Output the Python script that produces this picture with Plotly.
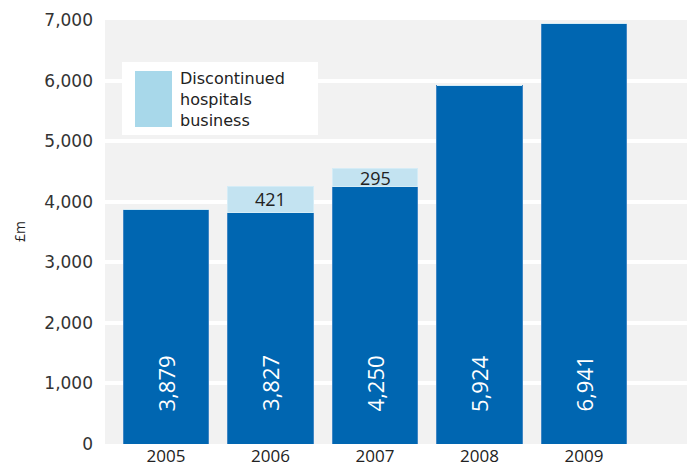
import plotly.graph_objects as go

years = ["2005", "2006", "2007", "2008", "2009"]
continuing = [3879, 3827, 4250, 5924, 6941]
discontinued = [0, 421, 295, 0, 0]
continuing_labels = ["3,879", "3,827", "4,250", "5,924", "6,941"]
discontinued_labels = ["", "421", "295", "", ""]
y_ticks = [0, 1000, 2000, 3000, 4000, 5000, 6000, 7000]
y_tick_text = ["0", "1,000", "2,000", "3,000", "4,000", "5,000", "6,000", "7,000"]
legend_lines = ["Discontinued", "hospitals", "business"]
y_title = "£m"

DARK = "#0066b1"
LIGHT = "#c3e3f1"
SWATCH = "#a8d8ea"
FONT = "Open Sans"

# plot area pixel geometry helpers (paper coords)
L, W, B, H = 105, 582, 444, 424
def px(x):
    return (x - L) / W
def py(y):
    return (B - y) / H

fig = go.Figure()
fig.add_trace(go.Bar(x=years, y=continuing, marker=dict(color=DARK, line=dict(color="#3f86c4", width=1)),
                     showlegend=False, hoverinfo="skip"))
fig.add_trace(go.Bar(x=years, y=discontinued, marker=dict(color=LIGHT, line=dict(color="#d5ecf6", width=1)),
                     showlegend=False, hoverinfo="skip"))

for i, lab in enumerate(continuing_labels):
    fig.add_annotation(x=i, y=1000, text=lab, textangle=-90, showarrow=False,
                       font=dict(color="white", size=22, family=FONT), xanchor="center", yanchor="middle")
for i, (lab, base, extra) in enumerate(zip(discontinued_labels, continuing, discontinued)):
    if lab:
        fig.add_annotation(x=i, y=base + extra / 2, text=lab, showarrow=False,
                           font=dict(color="#222222", size=18, family=FONT), xanchor="center", yanchor="middle")

# legend box
fig.add_shape(type="rect", xref="paper", yref="paper", x0=px(122), x1=px(318),
              y0=py(135), y1=py(62), fillcolor="white", line=dict(width=0), layer="above")
fig.add_shape(type="rect", xref="paper", yref="paper", x0=px(135), x1=px(172),
              y0=py(127), y1=py(71), fillcolor=SWATCH, line=dict(width=0), layer="above")
fig.add_annotation(xref="paper", yref="paper", x=px(178), y=py(99), text="<br>".join(legend_lines),
                   showarrow=False, xanchor="left", yanchor="middle", align="left",
                   font=dict(color="#222222", size=16, family="DejaVu Sans"))

fig.add_annotation(xref="paper", yref="paper", x=px(19), y=py(232), text=y_title, textangle=-90,
                   showarrow=False, xanchor="center", yanchor="middle",
                   font=dict(size=14, family=FONT, color="#222222"))

fig.update_layout(
    width=687, height=469,
    margin=dict(l=L, r=0, t=20, b=25),
    paper_bgcolor="white", plot_bgcolor="#f2f2f2",
    barmode="stack", bargap=0.18,
    font=dict(family=FONT, color="#222222"),
)
fig.update_xaxes(range=[-0.584, 4.986], showgrid=False, showline=False, zeroline=False,
                 tickfont=dict(size=17, family=FONT, color="#222222"), ticks="", fixedrange=True)
fig.update_yaxes(range=[0, 7000], tickvals=y_ticks, ticktext=y_tick_text, showgrid=True,
                 gridcolor="white", gridwidth=4, zeroline=False, showline=False,
                 tickfont=dict(size=17, family="DejaVu Sans", color="#333333"), ticks="",
                 ticklabelstandoff=11)

fig.write_html("out.html")
